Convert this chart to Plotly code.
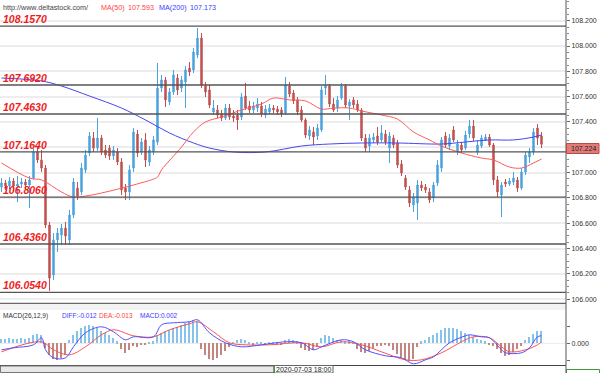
import plotly.graph_objects as go

W, H = 600, 373

# ---------------- data ----------------
bar_index = list(range(136))
opens = [106.886, 106.918, 106.894, 106.934, 106.894, 106.910, 106.926, 106.902, 106.957, 107.163,
         107.100, 107.036, 106.586, 106.191, 106.468, 106.507, 106.562, 106.468, 106.665, 106.878,
         106.847, 107.021, 107.155, 107.273, 107.194, 107.273, 107.179, 107.194, 107.131, 107.163,
         107.084, 106.878, 106.847, 107.036, 107.305, 107.163, 107.258, 107.084, 107.163, 107.242,
         107.668, 107.732, 107.558, 107.637, 107.747, 107.668, 107.716, 107.826, 107.811, 107.929,
         108.063, 107.684, 107.653, 107.479, 107.495, 107.463, 107.431, 107.510, 107.447, 107.455,
         107.439, 107.605, 107.526, 107.495, 107.510, 107.526, 107.455, 107.479, 107.510, 107.502,
         107.495, 107.471, 107.684, 107.629, 107.574, 107.495, 107.416, 107.289, 107.321, 107.289,
         107.337, 107.668, 107.684, 107.542, 107.510, 107.589, 107.684, 107.526, 107.574, 107.542,
         107.495, 107.273, 107.210, 107.258, 107.289, 107.258, 107.305, 107.194, 107.273, 107.234,
         107.068, 106.957, 106.863, 106.744, 106.760, 106.902, 106.886, 106.847, 106.799, 106.918,
         107.036, 107.289, 107.210, 107.337, 107.163, 107.218, 107.194, 107.305, 107.368, 107.163,
         107.210, 107.258, 107.281, 107.218, 106.942, 106.823, 106.926, 106.910, 106.926, 106.942,
         106.878, 107.005, 107.123, 107.163, 107.352, 107.289]
closes = [106.918, 106.894, 106.934, 106.894, 106.910, 106.926, 106.902, 106.942, 107.163, 107.100,
          107.036, 106.586, 106.167, 106.468, 106.523, 106.562, 106.499, 106.665, 106.926, 106.815,
          107.036, 107.139, 107.289, 107.194, 107.273, 107.163, 107.139, 107.131, 107.179, 107.084,
          106.863, 106.847, 107.021, 107.321, 107.155, 107.242, 107.100, 107.179, 107.258, 107.668,
          107.732, 107.574, 107.637, 107.771, 107.653, 107.732, 107.811, 107.795, 107.953, 108.063,
          107.692, 107.637, 107.534, 107.510, 107.455, 107.431, 107.510, 107.439, 107.431, 107.416,
          107.597, 107.510, 107.495, 107.526, 107.542, 107.463, 107.502, 107.510, 107.495, 107.479,
          107.463, 107.692, 107.621, 107.566, 107.479, 107.416, 107.297, 107.337, 107.281, 107.352,
          107.653, 107.684, 107.542, 107.495, 107.574, 107.684, 107.534, 107.558, 107.534, 107.495,
          107.273, 107.194, 107.273, 107.281, 107.242, 107.313, 107.242, 107.289, 107.218, 107.060,
          106.997, 106.886, 106.760, 106.807, 106.902, 106.878, 106.863, 106.784, 106.902, 107.060,
          107.258, 107.218, 107.273, 107.258, 107.226, 107.179, 107.297, 107.368, 107.273, 107.218,
          107.273, 107.281, 107.218, 106.942, 106.847, 106.902, 106.910, 106.934, 106.957, 106.878,
          107.005, 107.139, 107.163, 107.321, 107.273, 107.224]
highs = [106.957, 106.942, 106.965, 106.957, 106.973, 106.957, 106.949, 106.973, 107.194, 107.202,
         107.179, 107.060, 106.610, 106.523, 106.562, 106.594, 106.610, 106.705, 106.957, 106.926,
         107.076, 107.179, 107.321, 107.321, 107.431, 107.297, 107.218, 107.218, 107.210, 107.194,
         107.115, 106.910, 107.060, 107.352, 107.337, 107.273, 107.313, 107.210, 107.289, 107.866,
         107.771, 107.755, 107.668, 107.811, 107.779, 107.763, 107.842, 107.874, 107.984, 108.142,
         108.103, 107.716, 107.692, 107.574, 107.534, 107.495, 107.542, 107.542, 107.495, 107.495,
         107.629, 107.708, 107.566, 107.558, 107.589, 107.558, 107.534, 107.542, 107.534, 107.526,
         107.518, 107.755, 107.716, 107.653, 107.597, 107.526, 107.431, 107.368, 107.360, 107.384,
         107.684, 107.771, 107.700, 107.589, 107.605, 107.708, 107.700, 107.581, 107.597, 107.574,
         107.510, 107.305, 107.305, 107.313, 107.360, 107.376, 107.337, 107.321, 107.297, 107.258,
         107.100, 106.981, 106.894, 106.839, 106.942, 106.934, 106.910, 106.878, 106.926, 107.100,
         107.281, 107.321, 107.305, 107.368, 107.258, 107.242, 107.329, 107.416, 107.416, 107.258,
         107.297, 107.305, 107.305, 107.234, 106.973, 106.926, 106.949, 106.957, 107.005, 106.965,
         107.036, 107.163, 107.194, 107.352, 107.384, 107.321]
lows = [106.847, 106.863, 106.870, 106.847, 106.768, 106.878, 106.863, 106.720, 106.942, 107.076,
        107.005, 106.562, 106.065, 106.152, 106.373, 106.428, 106.428, 106.428, 106.641, 106.784,
        106.823, 106.997, 107.131, 107.163, 107.171, 107.139, 107.115, 107.100, 107.100, 107.060,
        106.823, 106.784, 106.784, 107.005, 107.123, 107.139, 107.044, 107.052, 107.139, 107.218,
        107.637, 107.518, 107.534, 107.613, 107.613, 107.637, 107.510, 107.763, 107.787, 107.905,
        107.668, 107.597, 107.510, 107.455, 107.431, 107.408, 107.416, 107.416, 107.400, 107.337,
        107.416, 107.495, 107.471, 107.471, 107.479, 107.439, 107.431, 107.463, 107.471, 107.455,
        107.439, 107.455, 107.597, 107.542, 107.455, 107.400, 107.273, 107.258, 107.218, 107.258,
        107.321, 107.613, 107.518, 107.479, 107.479, 107.574, 107.510, 107.416, 107.510, 107.479,
        107.250, 107.163, 107.163, 107.234, 107.218, 107.242, 107.218, 107.076, 107.194, 107.036,
        106.973, 106.863, 106.728, 106.689, 106.626, 106.855, 106.839, 106.760, 106.768, 106.894,
        107.005, 107.194, 107.179, 107.242, 107.139, 107.155, 107.179, 107.273, 107.250, 107.139,
        107.194, 107.250, 107.202, 106.902, 106.807, 106.649, 106.886, 106.894, 106.902, 106.847,
        106.863, 106.981, 107.076, 107.139, 107.218, 107.194]

ma50_idx = [0, 7, 10, 15, 18, 21, 25, 33, 38, 39, 40, 45, 48, 51, 55, 60, 65, 68, 72, 76, 80, 83, 87,
            90, 95, 99, 103, 107, 110, 115, 120, 123, 127, 130, 133, 135]
ma50 = [107.076, 106.957, 106.942, 106.847, 106.807, 106.815, 106.839, 106.902, 106.949, 106.965,
        107.021, 107.202, 107.321, 107.400, 107.439, 107.495, 107.542, 107.589, 107.574, 107.566,
        107.502, 107.510, 107.510, 107.487, 107.455, 107.423, 107.321, 107.258, 107.210, 107.155,
        107.115, 107.100, 107.044, 107.036, 107.076, 107.107]
ma200_idx = [0, 10, 15, 22, 30, 36, 42, 48, 52, 58, 66, 75, 82, 90, 99, 110, 116, 122, 128, 133, 135]
ma200 = [107.747, 107.724, 107.684, 107.605, 107.510, 107.416, 107.313, 107.234, 107.194, 107.163,
         107.163, 107.210, 107.226, 107.234, 107.234, 107.226, 107.242, 107.258, 107.258, 107.281,
         107.297]

diff_idx = [0, 3, 8, 10, 11, 13, 16, 18, 21, 25, 28, 31, 33, 38, 40, 43, 47, 49, 52, 56, 60, 65, 71,
            75, 78, 80, 85, 88, 91, 96, 100, 103, 106, 108, 112, 116, 117, 120, 122, 125, 126, 130,
            132, 134, 135]
diff_vals = [-0.013, -0.009, -0.003, 0.011, -0.013, -0.029, -0.029, -0.007, 0.021, 0.033, 0.023,
             0.007, 0.013, 0.013, 0.037, 0.041, 0.043, 0.047, 0.021, 0.001, -0.007, -0.003, 0.003,
             0.001, -0.013, -0.007, 0.007, 0.003, -0.013, -0.025, -0.029, -0.041, -0.033, -0.027,
             0.001, 0.015, 0.017, 0.013, 0.011, -0.013, -0.019, -0.019, -0.009, 0.013, 0.015]
dea_idx = [0, 10, 13, 17, 21, 25, 28, 33, 38, 42, 47, 49, 53, 57, 61, 67, 75, 80, 85, 90, 95, 101,
           105, 110, 115, 118, 122, 125, 127, 131, 134, 135]
dea_vals = [-0.017, 0.003, -0.013, -0.023, -0.007, 0.017, 0.027, 0.015, 0.013, 0.027, 0.039, 0.043,
            0.023, 0.001, -0.003, -0.003, 0.001, -0.007, 0.003, -0.003, -0.017, -0.033, -0.033,
            -0.019, 0.003, 0.013, 0.011, -0.007, -0.017, -0.013, -0.003, 0.003]
macd_hist = [0.008, 0.008, 0.010, 0.008, 0.008, 0.010, 0.008, 0.010,
             0.016, 0.018, 0.016,
             -0.010, -0.024, -0.032, -0.034, -0.030, -0.024,
             0.006,
             0.016, 0.024, 0.030, 0.034, 0.036, 0.034, 0.030,
             0.024, 0.020, 0.016,
             0.010, 0.004,
             -0.012, -0.020, -0.014,
             -0.006, -0.008, -0.004, -0.002,
             0.002, 0.004,
             0.016, 0.020, 0.024, 0.026, 0.030, 0.032, 0.036, 0.040, 0.044, 0.046, 0.044,
             -0.012, -0.024, -0.032, -0.034, -0.030, -0.024, -0.016, -0.008,
             0.002, 0.006, 0.008, 0.006,
             0.002, -0.002, 0.002, 0.002, -0.002, 0.002, 0.002, -0.002, -0.002,
             0.006, 0.008, 0.006, 0.004,
             -0.010, -0.014, -0.016, -0.014, -0.008,
             0.010, 0.016, 0.014, 0.010,
             0.006, 0.006, 0.004, 0.004, 0.002,
             -0.012, -0.018, -0.020, -0.016, -0.010,
             -0.006, -0.006, -0.004, -0.006,
             -0.014, -0.022, -0.028, -0.034, -0.036, -0.032,
             -0.008, 0.004, 0.006,
             0.012, 0.016, 0.020, 0.026, 0.030,
             0.030, 0.030, 0.028, 0.024, 0.020,
             0.016, 0.012, 0.008, 0.006, 0.004,
             -0.002, -0.006, -0.012,
             -0.020, -0.026, -0.024, -0.018,
             -0.012, -0.006,
             0.006, 0.012, 0.018, 0.024, 0.024]

levels = [108.157, 107.692, 107.463, 107.164, 106.806, 106.436, 106.054]
level_labels = ["108.1570", "107.6920", "107.4630", "107.1640", "106.8060", "106.4360", "106.0540"]
price_ticks = [106.0, 106.2, 106.4, 106.6, 106.8, 107.0, 107.2, 107.4, 107.6, 107.8, 108.0, 108.2]
# 107.200 is hidden behind the last-price box in the reference
price_ticktext = ["106.000", "106.200", "106.400", "106.600", "106.800", "107.000", "",
                  "107.400", "107.600", "107.800", "108.000", "108.200"]
macd_ticks = [-0.034, 0.0, 0.034]
macd_ticktext = ["", "0.000", ""]
last_price = 107.224
time_label = "2020-07-03 18:00"
ma50_label, ma200_label = "107.593", "107.173"
diff_label, dea_label, macd_label = "-0.012", "-0.013", "0.002"

# ---------------- layout helpers (pixel -> paper) ----------------
def px(x):
    return x / W

def py(y):
    return 1 - y / H

AX_R = 566  # right edge of plotting area in px
BLUE = "#4aa3df"
RED = "#c0504d"
FONT = "Liberation Sans, Arial, sans-serif"

fig = go.Figure()

fig.add_trace(go.Candlestick(
    x=bar_index, open=opens, high=highs, low=lows, close=closes,
    increasing=dict(line=dict(color=BLUE, width=1), fillcolor=BLUE),
    decreasing=dict(line=dict(color=RED, width=1), fillcolor=RED),
    whiskerwidth=0, hoverinfo="skip", xaxis="x", yaxis="y", showlegend=False))

fig.add_trace(go.Scatter(x=ma200_idx, y=ma200, mode="lines", line=dict(color="#4545f0", width=1, shape="spline"),
                         hoverinfo="skip", showlegend=False))
fig.add_trace(go.Scatter(x=ma50_idx, y=ma50, mode="lines", line=dict(color="#ff5a5a", width=1, shape="spline"),
                         hoverinfo="skip", showlegend=False))

fig.add_trace(go.Bar(x=bar_index, y=macd_hist, width=0.3,
                     marker=dict(color=["#86c3ea" if v >= 0 else "#c48480" for v in macd_hist], line=dict(width=0)),
                     xaxis="x2", yaxis="y2", hoverinfo="skip", showlegend=False))
fig.add_trace(go.Scatter(x=dea_idx, y=dea_vals, mode="lines", line=dict(color="#ff5050", width=1, shape="spline"),
                         xaxis="x2", yaxis="y2", hoverinfo="skip", showlegend=False))
fig.add_trace(go.Scatter(x=diff_idx, y=diff_vals, mode="lines", line=dict(color="#5050ff", width=1, shape="spline"),
                         xaxis="x2", yaxis="y2", hoverinfo="skip", showlegend=False))

xr = [-0.375, 141.125]
price_domain = [py(303), 1]
macd_domain = [py(365), py(310)]

fig.update_layout(
    width=W, height=H,
    margin=dict(l=0, r=0, t=0, b=0),
    paper_bgcolor="white", plot_bgcolor="white",
    font=dict(family=FONT, size=7, color="#333"),
    bargap=0, boxgap=0.5,
    xaxis=dict(domain=[0, px(AX_R)], range=xr, anchor="y", showticklabels=False, showgrid=False,
               zeroline=False, showline=False, ticks="", rangeslider=dict(visible=False), fixedrange=True),
    yaxis=dict(domain=price_domain, range=[105.970, 108.3635], anchor="x", side="right",
               tickvals=price_ticks, ticktext=price_ticktext, ticks="outside", ticklen=3, tickcolor="#666",
               minor=dict(dtick=0.05, ticks="outside", ticklen=2, tickcolor="#888", showgrid=False),
               showline=False, showgrid=True, gridcolor="#ededed", gridwidth=1.5, zeroline=False,
               tickfont=dict(family=FONT, size=7, color="#333"), automargin=False, fixedrange=True),
    xaxis2=dict(domain=[0, px(AX_R)], range=xr, anchor="y2", showticklabels=False, showgrid=False,
                zeroline=False, showline=False, ticks="", fixedrange=True),
    yaxis2=dict(domain=macd_domain, range=[-0.0434, 0.0666], anchor="x2", side="right",
                tickvals=macd_ticks, ticktext=macd_ticktext, ticks="outside", ticklen=3, tickcolor="#666",
                showgrid=False, zeroline=True, zerolinecolor="#ececec", zerolinewidth=1,
                tickfont=dict(family=FONT, size=7, color="#333"), automargin=False, fixedrange=True),
)

shapes = []
for lv in levels:
    shapes.append(dict(type="line", xref="paper", yref="y", x0=0, x1=px(AX_R), y0=lv, y1=lv,
                       line=dict(color="#555555", width=1.3)))
# band between panels
shapes.append(dict(type="rect", xref="paper", yref="paper", x0=0, x1=px(AX_R), y0=py(310), y1=py(303.5),
                   fillcolor="#f3f3f3", line=dict(width=0), layer="below"))
shapes.append(dict(type="line", xref="paper", yref="paper", x0=0, x1=px(AX_R), y0=py(303.3), y1=py(303.3),
                   line=dict(color="#444", width=1)))
shapes.append(dict(type="line", xref="paper", yref="paper", x0=0, x1=px(AX_R), y0=py(365.5), y1=py(365.5),
                   line=dict(color="#444", width=1)))
# bottom scroll bar and time box
shapes.append(dict(type="rect", xref="paper", yref="paper", x0=px(0.5), x1=px(274), y0=py(372.5), y1=py(366),
                   fillcolor="#e8e8e8", line=dict(color="#777", width=1)))
shapes.append(dict(type="rect", xref="paper", yref="paper", x0=px(274), x1=px(333), y0=py(373), y1=py(365.5),
                   fillcolor="white", line=dict(color="#666", width=1)))
shapes.append(dict(type="line", xref="paper", yref="paper", x0=px(274.5), x1=px(274.5), y0=py(373), y1=py(365.5),
                   line=dict(color="#3c9c3c", width=1)))
# bottom-right green value box (cut off at the window edge)
shapes.append(dict(type="rect", xref="paper", yref="paper", x0=px(AX_R + 0.5), x1=px(599.5), y0=py(373.5), y1=py(369.5),
                   fillcolor="white", line=dict(color="#3c9c3c", width=1)))
# right axis line
shapes.append(dict(type="line", xref="paper", yref="paper", x0=px(AX_R), x1=px(AX_R), y0=0, y1=1,
                   line=dict(color="#555", width=1)))
# current price box
shapes.append(dict(type="rect", xref="paper", yref="paper", x0=px(AX_R + 0.5), x1=px(599), y0=py(153.5), y1=py(143.5),
                   fillcolor="#e27b78", line=dict(color="#b84a48", width=1)))
fig.update_layout(shapes=shapes)

ann = []
LBL_FONT = dict(family=FONT, size=10.5, color="#f01c1c", weight="bold", style="italic")
for lv, t in zip(levels, level_labels):
    ann.append(dict(text=t, xref="paper", yref="y", x=px(1), y=lv, yshift=7, xanchor="left", yanchor="middle",
                    showarrow=False, font=LBL_FONT))

def ptext(t, x, y, color, size=7, anchor="left"):
    return dict(text=t, xref="paper", yref="paper", x=px(x), y=py(y), xanchor=anchor, yanchor="middle",
                showarrow=False, borderpad=0, font=dict(family=FONT, size=size, color=color))

ann.append(ptext("http://www.deltastock.com/", 2, 7, "#444", size=7.2))
ann.append(ptext("MA(50)", 100, 7, "#ff4040", size=7.2))
ann.append(ptext(ma50_label, 127, 7, "#ff4040", size=7.2))
ann.append(ptext("MA(200)", 158, 7, "#3a3aff", size=7.2))
ann.append(ptext(ma200_label, 189, 7, "#3a3aff", size=7.2))
ann.append(ptext("MACD(26,12,9)", 2, 315.5, "#333", size=6.5))
ann.append(ptext("DIFF:" + diff_label, 61, 315.5, "#3a3aff", size=6.5))
ann.append(ptext("DEA:" + dea_label, 98, 315.5, "#ff4040", size=6.5))
ann.append(ptext("MACD:" + macd_label, 139, 315.5, "#3a3aff", size=6.5))
ann.append(ptext(time_label, 303.5, 369.5, "#222", anchor="center"))
ann.append(dict(text=f"{last_price:.3f}", xref="paper", yref="paper", x=px(583), y=py(148.5),
                xanchor="center", yanchor="middle", showarrow=False, borderpad=0,
                font=dict(family=FONT, size=7, color="#222")))
fig.update_layout(annotations=ann)

fig.write_html("out.html", config={"displayModeBar": False},
               post_script="document.body.style.margin='0px'; document.body.style.overflow='hidden';")
